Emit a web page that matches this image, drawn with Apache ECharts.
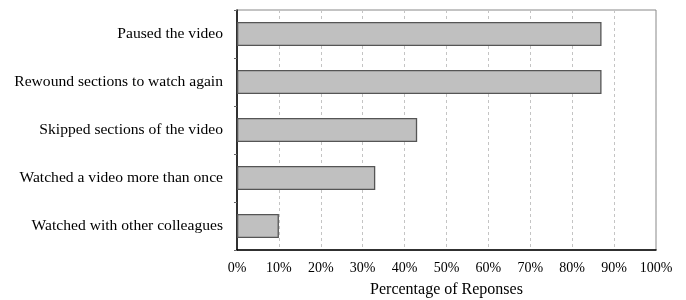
<!DOCTYPE html>
<html>
<head>
<meta charset="utf-8">
<script src="https://cdn.jsdelivr.net/npm/echarts@6/dist/echarts.min.js"></script>
<style>
  html, body { margin: 0; padding: 0; background: #fff; }
  #chart { width: 686px; height: 300px; }
</style>
</head>
<body>
<div id="chart"></div>
<script>
// categories, top to bottom
var categories = [
    'Paused the video',
    'Rewound sections to watch again',
    'Skipped sections of the video',
    'Watched a video more than once',
    'Watched with other colleagues'
];
// percentage of responses
var percents = [87, 87, 43, 33, 10];

var serif = '"Liberation Serif", "DejaVu Serif", serif';

var chart = echarts.init(document.getElementById('chart'));

chart.setOption({
    animation: false,
    grid: {
        left: 237, right: 30, top: 10, bottom: 50,
        outerBoundsMode: 'none',
        containLabel: false,
        show: true, borderColor: '#888', borderWidth: 1
    },
    xAxis: {
        type: 'value',
        min: 0,
        max: 100,
        interval: 10,
        name: 'Percentage of Reponses',
        nameLocation: 'center',
        nameGap: 32,
        nameTextStyle: { fontFamily: serif, fontSize: 16, color: '#000' },
        axisLine: { show: true, lineStyle: { color: '#000', width: 1.5 } },
        axisTick: { show: false },
        axisLabel: { formatter: '{value}%', fontFamily: serif, fontSize: 14, color: '#000', margin: 11 },
        splitLine: { show: true, lineStyle: { color: '#c4c4c4', type: [3, 3], width: 1 } }
    },
    yAxis: {
        type: 'category',
        data: categories,
        inverse: true,
        axisLine: { show: true, lineStyle: { color: '#000', width: 1.5 } },
        axisTick: { show: true, length: 3, lineStyle: { color: '#666' } },
        axisLabel: { fontFamily: serif, fontSize: 15.6, color: '#000', margin: 14 },
        splitLine: { show: false }
    },
    series: [{
        type: 'bar',
        data: percents,
        barCategoryGap: '50%',
        itemStyle: { color: '#c0c0c0', borderColor: '#555', borderWidth: 1.3 },
        silent: true
    }]
});
</script>
</body>
</html>
